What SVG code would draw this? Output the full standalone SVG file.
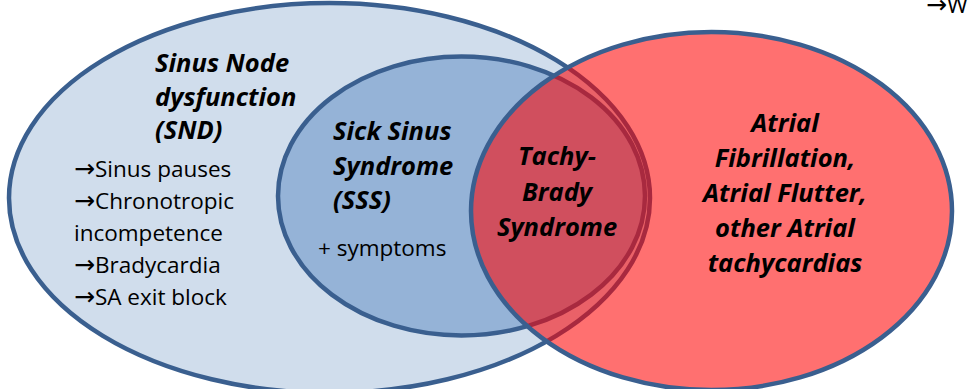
<svg xmlns="http://www.w3.org/2000/svg" width="969" height="389" viewBox="0 0 969 389">
<style>
.ell{stroke:#3A5F8F;stroke-width:4.5}
.t{font-family:"Open Sans","Liberation Sans",sans-serif;fill:#000}
.bi{font-weight:bold;font-style:italic;font-size:25.5px}
.r{font-size:22.5px}
.a{font-family:"DejaVu Sans",sans-serif;font-size:25px}
</style>
<rect width="969" height="389" fill="#fff"/>
<g id="snd">
<ellipse class="ell" cx="329.5" cy="198" rx="320.5" ry="195" fill="#D0DDEC"/>
</g>
<g id="sss">
<ellipse class="ell" cx="461.5" cy="196" rx="183.5" ry="139.5" fill="#95B3D7"/>
</g>
<g id="af">
<ellipse cx="711.5" cy="211" rx="240.5" ry="179" fill="#FF0000" fill-opacity="0.56"/>
<ellipse class="ell" cx="711.5" cy="211" rx="240.5" ry="179" fill="none"/>
</g>
<g id="connectors"></g>
<g id="labels">
<text class="t bi" x="155" y="72">Sinus Node</text>
<text class="t bi" x="155" y="106">dysfunction</text>
<text class="t bi" x="155" y="139">(SND)</text>
<text class="t r" x="74" y="177"><tspan class="a">→</tspan>Sinus pauses</text>
<text class="t r" x="74" y="209"><tspan class="a">→</tspan>Chronotropic</text>
<text class="t r" x="74" y="241">incompetence</text>
<text class="t r" x="74" y="273"><tspan class="a">→</tspan>Bradycardia</text>
<text class="t r" x="74" y="305"><tspan class="a">→</tspan>SA exit block</text>
<text class="t bi" x="333" y="140">Sick Sinus</text>
<text class="t bi" x="333" y="175">Syndrome</text>
<text class="t bi" x="333" y="209">(SSS)</text>
<text class="t r" x="318" y="256">+ symptoms</text>
<g text-anchor="middle">
<text class="t bi" x="557" y="165">Tachy-</text>
<text class="t bi" x="557" y="201">Brady</text>
<text class="t bi" x="557" y="236">Syndrome</text>
<text class="t bi" x="785" y="132">Atrial</text>
<text class="t bi" x="785" y="167">Fibrillation,</text>
<text class="t bi" x="785" y="202">Atrial Flutter,</text>
<text class="t bi" x="785" y="237">other Atrial</text>
<text class="t bi" x="785" y="272">tachycardias</text>
</g>
<text class="t r" x="926" y="13"><tspan class="a">→</tspan>W</text>
</g>
</svg>
